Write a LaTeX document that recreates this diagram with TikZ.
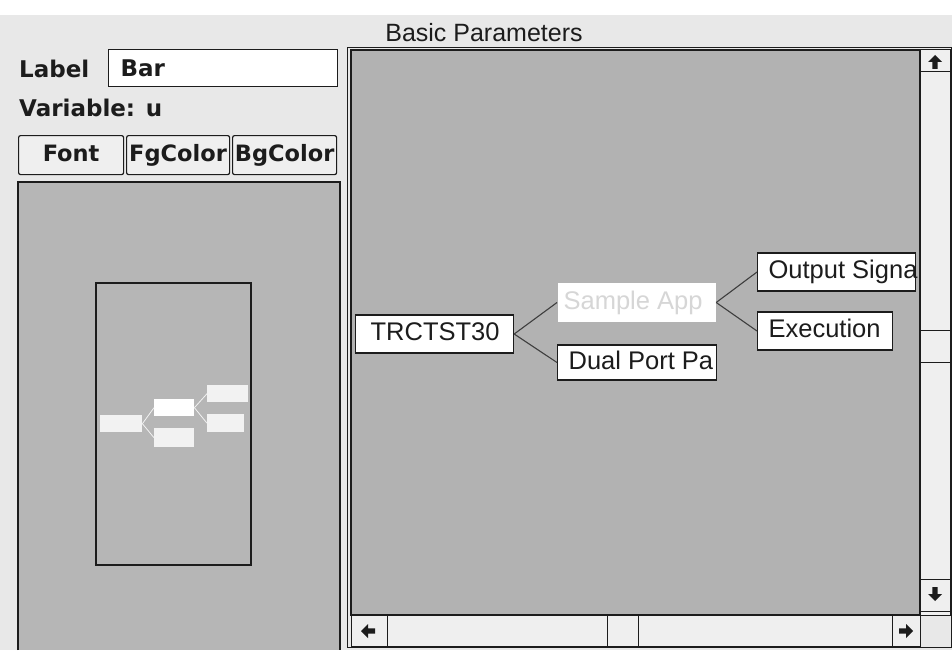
\documentclass[tikz,border=0pt]{standalone}
\usepackage{fontspec}
\setmainfont{Liberation Sans}
\newfontfamily\uifont{DejaVu Sans}
\definecolor{winbg}{HTML}{E8E8E8}
\definecolor{canvasgray}{HTML}{B2B2B2}
\definecolor{panelgray}{HTML}{B6B6B6}
\definecolor{trackbg}{HTML}{EFEFEF}
\definecolor{ink}{HTML}{1C1C1C}
\definecolor{ghost}{HTML}{D6D6D6}
\definecolor{minifill}{HTML}{F2F2F2}
% fixed-width, left-aligned label that may run past its box without wrapping
\newcommand{\cell}[2]{\makebox[#1][l]{#2}}
\tikzset{
  frame/.style={draw=ink, line width=1.2pt},
  uitext/.style={font=\uifont\bfseries\fontsize{23}{26}\selectfont, text=ink, inner sep=0pt},
  field/.style={frame, fill=white, inner xsep=12pt, inner ysep=0pt,
    font=\uifont\bfseries\fontsize{23}{26}\selectfont, text=ink},
  uibutton/.style={frame, fill=trackbg, rounded corners=2pt, inner sep=0pt,
    text height=16pt, text depth=4pt,
    font=\uifont\bfseries\fontsize{22.5}{26}\selectfont, text=ink},
  treebox/.style={frame, fill=white, anchor=west, inner xsep=11pt, inner ysep=0pt,
    text height=18pt, text depth=5pt,
    font=\fontsize{25.5}{30}\selectfont, text=ink},
  ghostbox/.style={treebox, draw=none, text=ghost},
  link/.style={draw=ink!85, line width=1.1pt},
  minibox/.style={fill=minifill, draw=none, inner sep=0pt, anchor=north west},
  minilink/.style={draw=white!90!gray, line width=0.8pt},
  track/.style={fill=trackbg, draw=ink, line width=1pt},
  scrollarrow/.pic={\fill[ink] (0,-7) -- (7,0) -- (2.6,0) -- (2.6,7) -- (-2.6,7) -- (-2.6,0) -- (-7,0) -- cycle;}
}
\begin{document}
\begin{tikzpicture}[x=1pt,y=-1pt]
\useasboundingbox (0,0) rectangle (952,650);
% window background
\fill[white] (0,0) rectangle (952,15);
\fill[winbg] (0,15) rectangle (952,650);

% title
\node[font=\fontsize{25}{30}\selectfont, text=ink, inner sep=0pt] (title) at (484,33) {Basic Parameters};

% property fields
\node[uitext, anchor=west] (lbl) at (19,69) {Label};
\node[field, anchor=north west, minimum width=229pt, minimum height=37pt] (labelfield) at (108,49) {\cell{205pt}{Bar}};
\node[uitext, anchor=west] (var) at (19,108) {Variable: u};
\node[uibutton, anchor=north west, minimum width=105pt, minimum height=39pt] (bfont) at (18,135) {Font};
\node[uibutton, anchor=north west, minimum width=103pt, minimum height=39pt] (bfg) at (126,135) {FgColor};
\node[uibutton, anchor=north west, minimum width=104pt, minimum height=39pt] (bbg) at (232,135) {BgColor};

% overview panel
\fill[panelgray] (18,182) rectangle (340,650);
\draw[frame] (18,650) -- (18,182) -- (340,182) -- (340,650);
\draw[frame] (96,283) rectangle (251,565);
\node[minibox, minimum width=42pt, minimum height=17pt] (m0) at (100,415) {};
\node[minibox, fill=white, minimum width=40pt, minimum height=17pt] (m1) at (154,399) {};
\node[minibox, minimum width=40pt, minimum height=19pt] (m2) at (154,428) {};
\node[minibox, minimum width=41pt, minimum height=17pt] (m3) at (207,385) {};
\node[minibox, minimum width=37pt, minimum height=18pt] (m4) at (207,414) {};
\draw[minilink] (m0.east) -- (m1.west);
\draw[minilink] (m0.east) -- (m2.west);
\draw[minilink] (m1.east) -- (m3.west);
\draw[minilink] (m1.east) -- (m4.west);

% outer frame of the tree view
\draw[ink, line width=0.8pt] (347,47) rectangle (951,647);
% tree canvas
\fill[canvasgray] (351,50) rectangle (920,615);
\draw[frame] (351,50) rectangle (920,615);

% vertical scrollbar
\draw[track] (920,50) rectangle (950,615);
\draw[ink, line width=1pt] (920,72) -- (950,72);
\draw[ink, line width=1pt] (920,330) -- (950,330);
\draw[ink, line width=1pt] (920,362) -- (950,362);
\draw[ink, line width=1pt] (920,579) -- (950,579);
\draw[ink, line width=1pt] (920,611) -- (950,611);
\pic at (935,62) {scrollarrow};
\pic[rotate=180] at (935,594) {scrollarrow};

% horizontal scrollbar
\draw[track] (351,615) rectangle (920,646);
\draw[ink, line width=1pt] (387,615) -- (387,646);
\draw[ink, line width=1pt] (607,615) -- (607,646);
\draw[ink, line width=1pt] (638,615) -- (638,646);
\draw[ink, line width=1pt] (892,615) -- (892,646);
\pic[rotate=90] at (368,631) {scrollarrow};
\pic[rotate=-90] at (906,631) {scrollarrow};

% tree nodes
\node[treebox, minimum height=38pt, inner xsep=15pt] (root) at (355,334) {\cell{128pt}{TRCTST30}};
\node[ghostbox, minimum height=39pt, inner xsep=6pt] (app) at (557,302.5) {\cell{146pt}{Sample App}};
\node[treebox, minimum height=35pt] (dual) at (557,362.5) {\cell{137pt}{Dual Port Pa}};
\node[treebox, minimum height=38pt] (out) at (757,272) {\cell{136pt}{Output Signa}};
\node[treebox, minimum height=38pt] (exec) at (757,331) {\cell{113pt}{Execution}};

% connectors
\draw[link] (root.east) -- (app.west);
\draw[link] (root.east) -- (dual.west);
\draw[link] (app.east) -- (out.west);
\draw[link] (app.east) -- (exec.west);
\end{tikzpicture}
\end{document}
